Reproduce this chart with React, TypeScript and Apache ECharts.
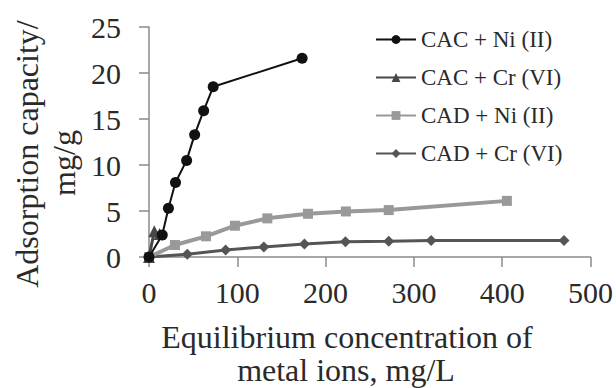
import React, { useEffect, useRef } from "react";
import * as echarts from "echarts";

const seriesNames = ["CAC + Ni (II)", "CAC + Cr (VI)", "CAD + Ni (II)", "CAD + Cr (VI)"];

const cacNi: [number, number][] = [
  [0, 0], [15, 2.4], [22, 5.3], [30, 8.1], [42.6, 10.5], [51.7, 13.3], [61.9, 15.9], [72.7, 18.5], [173.4, 21.6],
];
const cacCr: [number, number][] = [
  [0, 0], [6, 2.8], [12, 2.5],
];
const cadNi: [number, number][] = [
  [0, 0], [29.4, 1.3], [64.5, 2.25], [97.3, 3.4], [134, 4.2], [180, 4.7], [223, 4.95], [271.5, 5.1], [405.3, 6.1],
];
const cadCr: [number, number][] = [
  [0, 0], [43.3, 0.3], [86.8, 0.75], [130, 1.1], [176, 1.4], [222.5, 1.65], [271.5, 1.7], [319.5, 1.8], [470, 1.8],
];

const xTicks = { min: 0, max: 500, interval: 100 };
const yTicks = { min: 0, max: 25, interval: 5 };

const yTitle1 = "Adsorption capacity/";
const yTitle2 = "mg/g";
const xTitle1 = "Equilibrium concentration of";
const xTitle2 = "metal ions, mg/L";

const FONT = "Liberation Serif";
const TEXT = "#2a2a2a";
const AXIS = "#8a8a8a";

export default function App() {
  const ref = useRef<HTMLDivElement>(null);
  useEffect(() => {
    if (!ref.current) return;
    const chart = echarts.init(ref.current, undefined, { renderer: "svg" });
    const labelStyle = { fontFamily: FONT, fontSize: 30, color: TEXT };
    chart.setOption({
      animation: false,
      grid: { left: 149, right: 25, top: 27, bottom: 131, containLabel: false },
      xAxis: {
        type: "value",
        min: xTicks.min,
        max: xTicks.max,
        interval: xTicks.interval,
        axisLine: { lineStyle: { color: AXIS, width: 1.5 } },
        axisTick: { show: true, length: 10, inside: false, lineStyle: { color: AXIS, width: 1.5 } },
        splitLine: { show: false },
        axisLabel: { ...labelStyle, margin: 20 },
      },
      yAxis: {
        type: "value",
        min: yTicks.min,
        max: yTicks.max,
        interval: yTicks.interval,
        axisLine: { show: true, lineStyle: { color: AXIS, width: 1.5 } },
        axisTick: { show: true, length: 10, inside: false, lineStyle: { color: AXIS, width: 1.5 } },
        splitLine: { show: false },
        axisLabel: { ...labelStyle, margin: 28 },
      },
      legend: {
        orient: "vertical",
        left: 370,
        top: 22,
        itemWidth: 40,
        itemHeight: 11,
        itemGap: 13,
        textStyle: { fontFamily: FONT, fontSize: 23, color: TEXT, lineHeight: 25 },
        data: seriesNames,
      },
      graphic: [
        {
          type: "text",
          x: 27,
          y: 154,
          rotation: Math.PI / 2,
          style: { text: yTitle1, fontFamily: FONT, fontSize: 32, fill: TEXT, align: "center", verticalAlign: "middle" },
        },
        {
          type: "text",
          x: 64,
          y: 163,
          rotation: Math.PI / 2,
          style: { text: yTitle2, fontFamily: FONT, fontSize: 32, fill: TEXT, align: "center", verticalAlign: "middle" },
        },
        {
          type: "text",
          x: 347,
          y: 337,
          style: { text: xTitle1, fontFamily: FONT, fontSize: 32, fill: TEXT, align: "center", verticalAlign: "middle" },
        },
        {
          type: "text",
          x: 346,
          y: 370,
          style: { text: xTitle2, fontFamily: FONT, fontSize: 32, fill: TEXT, align: "center", verticalAlign: "middle" },
        },
      ],
      series: [
        {
          name: seriesNames[3],
          type: "line",
          data: cadCr,
          symbol: "diamond",
          symbolSize: 11,
          lineStyle: { color: "#555555", width: 3 },
          itemStyle: { color: "#555555" },
          z: 2,
        },
        {
          name: seriesNames[2],
          type: "line",
          data: cadNi,
          symbol: "rect",
          symbolSize: 10,
          lineStyle: { color: "#999999", width: 4 },
          itemStyle: { color: "#999999" },
          z: 3,
        },
        {
          name: seriesNames[1],
          type: "line",
          data: cacCr,
          symbol: "triangle",
          symbolSize: 12,
          lineStyle: { color: "#474747", width: 3 },
          itemStyle: { color: "#474747" },
          z: 4,
        },
        {
          name: seriesNames[0],
          type: "line",
          data: cacNi,
          symbol: "circle",
          symbolSize: 11,
          lineStyle: { color: "#111111", width: 2 },
          itemStyle: { color: "#111111" },
          z: 5,
        },
      ],
    });
    return () => chart.dispose();
  }, []);
  return <div ref={ref} style={{ width: 616, height: 388, position: "absolute", left: 0, top: 0 }} />;
}
